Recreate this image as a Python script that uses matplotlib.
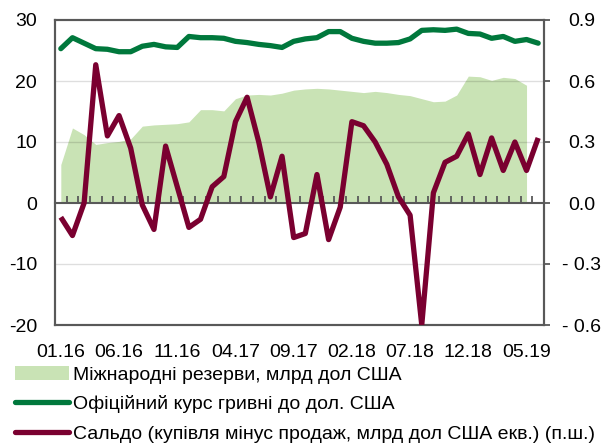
import numpy as np
import pandas as pd
import matplotlib
matplotlib.use("Agg")
import matplotlib.pyplot as plt
from matplotlib.patches import Patch
from matplotlib.lines import Line2D

plt.rcParams['font.family'] = ['Liberation Sans', 'DejaVu Sans']
plt.rcParams['font.size'] = 14
plt.rcParams['axes.unicode_minus'] = False

months = pd.date_range("2016-01-01", periods=42, freq="MS")

# міжнародні резерви, млрд дол США (до 05.19)
reserves = [6.3, 12.3, 11.2, 9.6, 9.9, 10.1, 10.5, 12.6, 12.8, 12.9, 13.0,
            13.3, 15.3, 15.3, 15.1, 17.1, 17.7, 17.8, 17.7, 18.0, 18.5,
            18.7, 18.8, 18.7, 18.5, 18.3, 18.1, 18.3, 18.1, 17.8, 17.6,
            17.1, 16.6, 16.7, 17.7, 20.8, 20.7, 20.1, 20.6, 20.4, 19.3]

# офіційний курс, грн за дол США
rate = [25.3, 27.1, 26.2, 25.3, 25.2, 24.8, 24.8, 25.7, 26.0, 25.6, 25.5,
        27.3, 27.1, 27.1, 27.0, 26.5, 26.3, 26.0, 25.8, 25.5, 26.5,
        26.9, 27.1, 28.1, 28.1, 27.0, 26.5, 26.2, 26.2, 26.3, 26.9,
        28.3, 28.4, 28.3, 28.5, 27.8, 27.7, 27.0, 27.3, 26.5, 26.8, 26.2]

# сальдо інтервенцій, млрд дол США (права шкала)
saldo = [-0.07, -0.16, 0.0, 0.68, 0.33, 0.43, 0.27, -0.01, -0.13, 0.28, 0.08,
         -0.12, -0.08, 0.08, 0.13, 0.40, 0.52, 0.30, 0.03, 0.23, -0.17,
         -0.15, 0.14, -0.18, -0.02, 0.40, 0.38, 0.30, 0.19, 0.03, -0.06,
         -0.60, 0.05, 0.20, 0.23, 0.34, 0.14, 0.32, 0.16, 0.30, 0.16, 0.32]

tick_labels = ["01.16", "06.16", "11.16", "04.17", "09.17",
               "02.18", "07.18", "12.18", "05.19"]
left_ticks = [-20, -10, 0, 10, 20, 30]
right_ticks = [-0.6, -0.3, 0.0, 0.3, 0.6, 0.9]
right_labels = ["- 0.6", "- 0.3", "0.0", "0.3", "0.6", "0.9"]

c_area = "#c9e3b5"
c_rate = "#00783c"
c_saldo = "#7a0030"
c_axis = "#595959"

x = np.arange(len(months))

fig = plt.figure(figsize=(6.11, 4.43), dpi=100)
ax = fig.add_axes([55 / 611, 1 - 325 / 443, 489 / 611, 305 / 443])

ax.fill_between(x[:len(reserves)], 0, reserves, color=c_area, lw=0, zorder=1)
for v in [-10, 10, 20]:
    ax.axhline(v, color="black", alpha=0.13, lw=1, zorder=2)
ax.plot(x, rate, color=c_rate, lw=3.8, solid_joinstyle="round",
        solid_capstyle="round", zorder=4)

ax.set_xlim(-0.5, len(months) - 0.5)
ax.set_ylim(-20, 30)
ax.set_yticks(left_ticks)
ax.tick_params(axis="y", length=0, pad=13, labelsize=14)

# category axis crossing at 0, ticks between months
ax.spines["bottom"].set_position(("data", 0))
ax.spines["bottom"].set_zorder(3)
ax.set_xticks(np.arange(0.5, len(months) - 1, 1))
ax.tick_params(axis="x", direction="in", length=5, width=1.3,
               color=c_axis, labelbottom=False)
for s in ax.spines.values():
    s.set_color(c_axis)
    s.set_linewidth(1.5)

sec = ax.secondary_xaxis("bottom")
sec.set_xticks(x[::5], tick_labels)
sec.tick_params(length=0, pad=14, labelsize=14)
sec.spines["bottom"].set_color(c_axis)
sec.spines["bottom"].set_linewidth(1.5)

ax2 = ax.twinx()
ax2.plot(x, saldo, color=c_saldo, lw=3.8, solid_joinstyle="round",
         solid_capstyle="butt", zorder=5)
ax2.set_ylim(-0.6, 0.9)
ax2.set_yticks(right_ticks, right_labels)
ax2.tick_params(axis="y", direction="out", length=4, width=1.3,
                color=c_axis, pad=23, labelsize=14)
for lab in ax2.get_yticklabels():
    lab.set_horizontalalignment("center")
for s in ax2.spines.values():
    s.set_color(c_axis)
    s.set_linewidth(1.5)

handles = [
    Patch(facecolor=c_area, edgecolor="none"),
    Line2D([], [], color=c_rate, lw=3.8, solid_capstyle="round"),
    Line2D([], [], color=c_saldo, lw=3.8, solid_capstyle="round"),
]
labels = [
    "Міжнародні резерви, млрд дол США",
    "Офіційний курс гривні до дол. США",
    "Сальдо (купівля мінус продаж, млрд дол США екв.) (п.ш.)",
]
fig.legend(handles, labels, loc="upper left",
           bbox_to_anchor=(15 / 611, 1 - 366 / 443), frameon=False,
           borderpad=0, borderaxespad=0, handlelength=2.8,
           handletextpad=0.2, labelspacing=0.6, fontsize=14)

fig.savefig("out.png", dpi=100)
